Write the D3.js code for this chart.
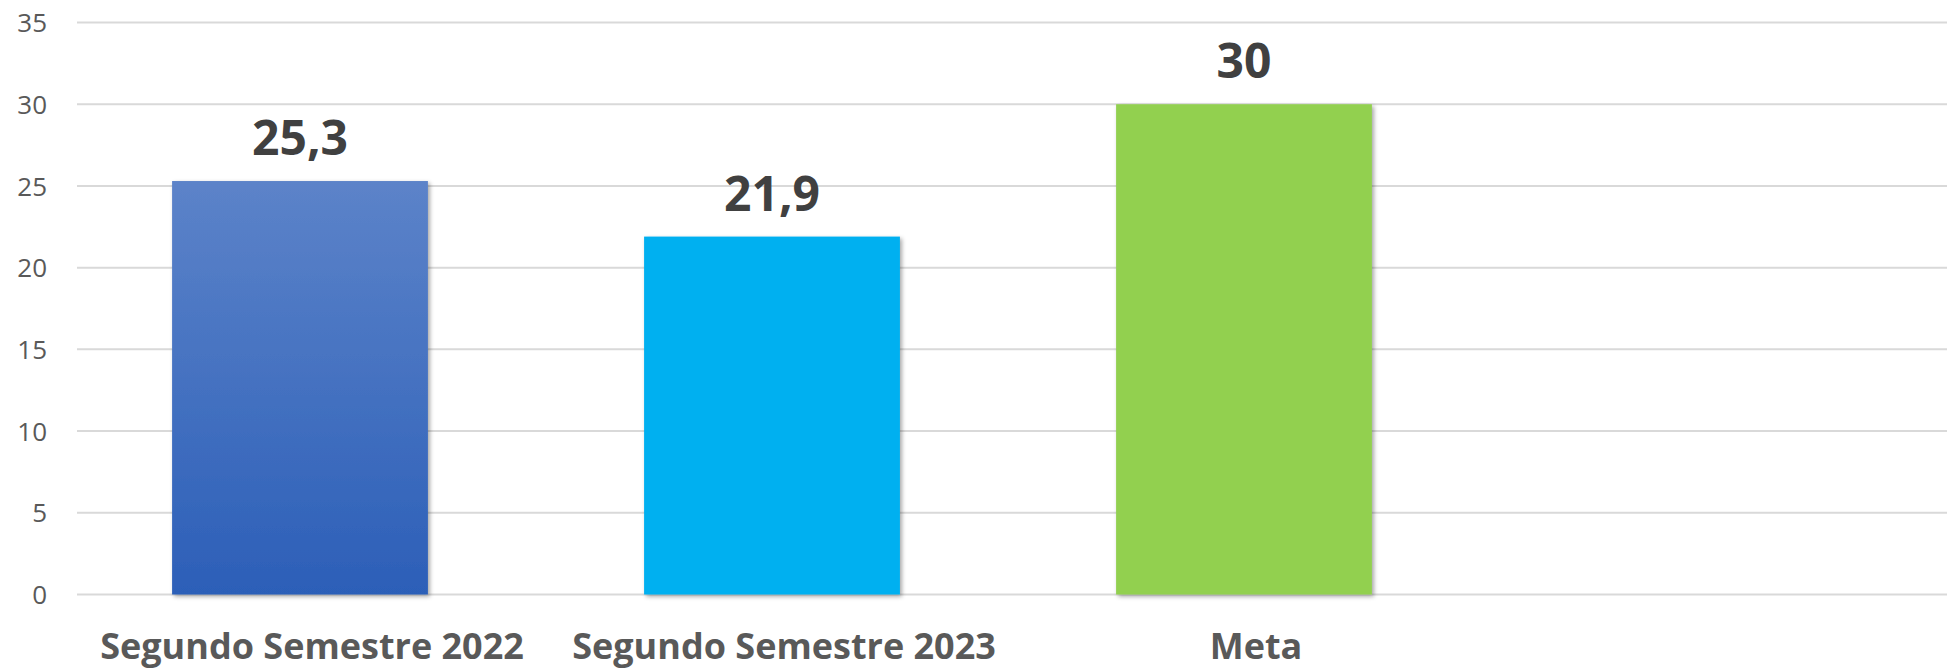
<!DOCTYPE html>
<html>
<head>
<meta charset="utf-8">
<script src="https://cdn.jsdelivr.net/npm/d3@7"></script>
<style>
  body { margin: 0; background: #fff; }
  .grid line { stroke: #d9d9d9; stroke-width: 2; }
  .yaxis text { font-family: "Open Sans", sans-serif; font-size: 26px; fill: #595959; }
  .xlabel { font-family: "Open Sans", sans-serif; font-size: 36px; font-weight: bold; fill: #595959; }
  .vlabel { font-family: "Open Sans", sans-serif; font-size: 48px; font-weight: bold; fill: #404040; }
</style>
</head>
<body>
<div id="chart"></div>
<script>
// data
var categories = ["Segundo Semestre 2022", "Segundo Semestre 2023", "Meta"];
var values = [25.3, 21.9, 30];
var valueLabels = ["25,3", "21,9", "30"];
var yTicks = [0, 5, 10, 15, 20, 25, 30, 35];

var width = 1947, height = 671;
var plotLeft = 77, plotRight = 1947, yTop = 22.5, yBottom = 594.5;

var svg = d3.select("#chart")
    .append("svg")
        .attr("width", width)
        .attr("height", height);

var defs = svg.append("defs");

// gradient for the first bar
var grad = defs.append("linearGradient")
    .attr("id", "blueGrad")
    .attr("x1", 0).attr("y1", 0).attr("x2", 0).attr("y2", 1);
grad.append("stop").attr("offset", "0%").attr("stop-color", "#5c83c9");
grad.append("stop").attr("offset", "100%").attr("stop-color", "#2c5fb8");

// soft shadow
var shadow = defs.append("filter")
    .attr("id", "shadow")
    .attr("x", "-10%").attr("y", "-10%").attr("width", "120%").attr("height", "120%");
shadow.append("feDropShadow")
    .attr("dx", 2).attr("dy", 2)
    .attr("stdDeviation", 2)
    .attr("flood-color", "#000")
    .attr("flood-opacity", 0.35);

var fills = ["url(#blueGrad)", "#00b0f0", "#92d050"];

// scales
var y = d3.scaleLinear()
    .domain([0, 35])
    .range([yBottom, yTop]);

var x = d3.scaleBand()
    .domain(categories)
    .range([64, 1480])
    .paddingInner(0.458)
    .paddingOuter(0.229);

// grid lines
svg.append("g")
    .attr("class", "grid")
    .selectAll("line")
    .data(yTicks)
    .enter()
    .append("line")
        .attr("x1", plotLeft)
        .attr("x2", plotRight)
        .attr("y1", function(d){ return y(d); })
        .attr("y2", function(d){ return y(d); });

// y axis labels
var yAxis = svg.append("g")
    .attr("class", "yaxis")
    .attr("transform", "translate(47,0)")
    .call(d3.axisLeft(y).tickValues(yTicks).tickSize(0).tickPadding(0));
yAxis.select(".domain").remove();
yAxis.selectAll("text").attr("dy", "0.35em");

// bars
svg.append("g")
    .selectAll("rect")
    .data(values)
    .enter()
    .append("rect")
        .attr("x", function(d, i){ return x(categories[i]); })
        .attr("y", function(d){ return y(d); })
        .attr("width", x.bandwidth())
        .attr("height", function(d){ return y(0) - y(d); })
        .attr("fill", function(d, i){ return fills[i]; })
        .attr("filter", "url(#shadow)");

// value labels
svg.append("g")
    .selectAll("text")
    .data(values)
    .enter()
    .append("text")
        .attr("class", "vlabel")
        .attr("text-anchor", "middle")
        .attr("x", function(d, i){ return x(categories[i]) + x.bandwidth() / 2; })
        .attr("y", function(d){ return y(d) - 26; })
        .text(function(d, i){ return valueLabels[i]; });

// category labels
svg.append("g")
    .selectAll("text")
    .data(categories)
    .enter()
    .append("text")
        .attr("class", "xlabel")
        .attr("text-anchor", "middle")
        .attr("x", function(d){ return x(d) + x.bandwidth() / 2 + 12; })
        .attr("y", 659)
        .text(function(d){ return d; });
</script>
</body>
</html>
